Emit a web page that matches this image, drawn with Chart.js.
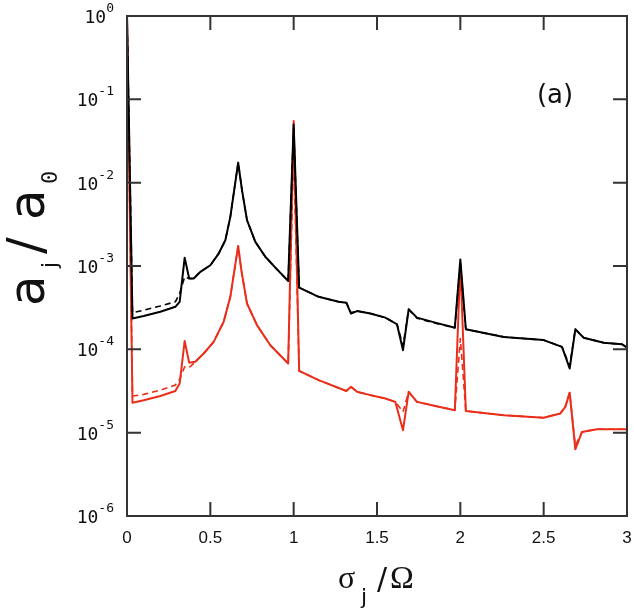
<!DOCTYPE html>
<html>
<head>
<meta charset="utf-8">
<script src="https://cdn.jsdelivr.net/npm/chart.js@4.4.1/dist/chart.umd.min.js"></script>
<style>
  body { margin: 0; background: #fff; }
  canvas { display: block; }
</style>
</head>
<body>
<canvas id="chart" width="634" height="614"></canvas>
<script>
// values (a_j / a_0 against sigma_j / Omega)
const blackX = [0, 0.033, 0.1, 0.2, 0.29, 0.316, 0.346, 0.373, 0.40, 0.44, 0.50, 0.55, 0.59, 0.62, 0.667, 0.69, 0.72, 0.77, 0.83, 0.90, 0.967,
    1.0, 1.033, 1.15, 1.27, 1.316, 1.344, 1.38, 1.46, 1.55, 1.62, 1.656, 1.69, 1.74, 1.85, 1.967, 2.0, 2.033, 2.26, 2.5, 2.61, 2.656, 2.69, 2.74, 2.86, 2.97, 3.0];
const blackSolid = [1, 2.34e-4, 2.51e-4, 2.82e-4, 3.24e-4, 3.72e-4, 1.26e-3, 7.08e-4, 7.08e-4, 8.51e-4, 1.02e-3, 1.41e-3, 2.04e-3, 3.89e-3, 1.74e-2, 8.13e-3, 3.55e-3, 1.95e-3, 1.29e-3, 9.12e-4, 6.61e-4,
    5.00e-2, 5.50e-4, 4.27e-4, 3.72e-4, 3.63e-4, 2.69e-4, 2.88e-4, 2.69e-4, 2.40e-4, 2.00e-4, 9.77e-5, 3.02e-4, 2.40e-4, 2.09e-4, 1.82e-4, 1.20e-3, 1.74e-4, 1.41e-4, 1.29e-4, 1.07e-4, 5.89e-5, 1.74e-4, 1.38e-4, 1.20e-4, 1.15e-4, 1.05e-4];
const blackDashed = [1, 2.75e-4, 2.95e-4, 3.31e-4, 3.72e-4, 4.68e-4, 7.41e-4, 7.08e-4, 7.08e-4, 8.51e-4, 1.02e-3, 1.41e-3, 2.04e-3, 3.89e-3, 1.74e-2, 8.13e-3, 3.55e-3, 1.95e-3, 1.29e-3, 9.12e-4, 6.61e-4,
    4.50e-2, 5.50e-4, 4.27e-4, 3.72e-4, 3.63e-4, 2.75e-4, 2.88e-4, 2.69e-4, 2.40e-4, 2.00e-4, 1.10e-4, 3.02e-4, 2.36e-4, 2.06e-4, 1.82e-4, 1.10e-3, 1.74e-4, 1.41e-4, 1.29e-4, 1.07e-4, 6.30e-5, 1.74e-4, 1.38e-4, 1.20e-4, 1.15e-4, 1.05e-4];

const redX = [0, 0.033, 0.1, 0.2, 0.29, 0.316, 0.346, 0.373, 0.41, 0.46, 0.52, 0.58, 0.62, 0.667, 0.686, 0.72, 0.78, 0.86, 0.967,
    1.0, 1.033, 1.15, 1.316, 1.344, 1.38, 1.46, 1.55, 1.61, 1.656, 1.69, 1.74, 1.85, 1.967, 2.0, 2.033, 2.26, 2.5, 2.60, 2.63, 2.656, 2.69, 2.73, 2.82, 3.0];
const redSolid = [1, 2.29e-5, 2.45e-5, 2.75e-5, 3.16e-5, 3.89e-5, 1.26e-4, 6.92e-5, 7.08e-5, 8.91e-5, 1.23e-4, 2.14e-4, 4.27e-4, 1.74e-3, 8.91e-4, 3.55e-4, 1.95e-4, 1.12e-4, 6.76e-5,
    5.50e-2, 5.50e-5, 4.27e-5, 3.16e-5, 3.55e-5, 3.09e-5, 2.82e-5, 2.57e-5, 2.34e-5, 1.07e-5, 3.09e-5, 2.34e-5, 2.09e-5, 1.86e-5, 1.07e-3, 1.82e-5, 1.62e-5, 1.51e-5, 1.70e-5, 2.04e-5, 3.02e-5, 6.31e-6, 1.02e-5, 1.10e-5, 1.10e-5];
const redDashed = [1, 2.75e-5, 2.88e-5, 3.24e-5, 3.72e-5, 4.37e-5, 6.17e-5, 6.03e-5, 7.08e-5, 8.91e-5, 1.23e-4, 2.14e-4, 4.27e-4, 1.74e-3, 8.91e-4, 3.55e-4, 1.95e-4, 1.12e-4, 6.76e-5,
    2.50e-2, 5.50e-5, 4.27e-5, 3.16e-5, 3.55e-5, 3.09e-5, 2.82e-5, 2.57e-5, 2.34e-5, 1.78e-5, 3.09e-5, 2.34e-5, 2.09e-5, 1.86e-5, 1.35e-4, 1.82e-5, 1.62e-5, 1.51e-5, 1.70e-5, 2.04e-5, 3.02e-5, 7.00e-6, 1.02e-5, 1.10e-5, 1.10e-5];

const xTicks = [0, 0.5, 1, 1.5, 2, 2.5, 3];
const xTickLabels = ['0', '0.5', '1', '1.5', '2', '2.5', '3'];
const yExponents = [0, -1, -2, -3, -4, -5, -6];

const RED = '#ea2e1a';

function pts(xs, ys) {
    return xs.map((x, i) => ({ x: x, y: ys[i] }));
}

function line(data, color, dashed) {
    return {
        data: data,
        borderColor: color,
        borderWidth: dashed ? 1.6 : 2,
        borderDash: dashed ? [6, 4] : [],
        borderJoinStyle: 'round',
        pointRadius: 0,
        tension: 0,
        fill: false
    };
}

// frame, inward ticks and all the labels
const axesPlugin = {
    id: 'axesPlugin',
    afterDraw(chart) {
        const { ctx, chartArea: a, scales: { x, y } } = chart;
        ctx.save();
        ctx.strokeStyle = '#333';
        ctx.lineWidth = 2;
        ctx.strokeRect(a.left, a.top, a.right - a.left, a.bottom - a.top);

        const tl = 14;
        ctx.beginPath();
        xTicks.forEach(v => {
            const px = x.getPixelForValue(v);
            ctx.moveTo(px, a.bottom); ctx.lineTo(px, a.bottom - tl);
            ctx.moveTo(px, a.top); ctx.lineTo(px, a.top + tl);
        });
        yExponents.forEach(e => {
            const py = y.getPixelForValue(Math.pow(10, e));
            ctx.moveTo(a.left, py); ctx.lineTo(a.left + tl, py);
            ctx.moveTo(a.right, py); ctx.lineTo(a.right - tl, py);
        });
        ctx.stroke();

        ctx.fillStyle = '#111';
        // x tick labels
        ctx.font = '17px "Liberation Sans", Arial, sans-serif';
        ctx.textAlign = 'center';
        ctx.textBaseline = 'alphabetic';
        xTicks.forEach((v, i) => {
            ctx.fillText(xTickLabels[i], x.getPixelForValue(v), 543);
        });

        // y tick labels 10^e
        yExponents.forEach(e => {
            const py = y.getPixelForValue(Math.pow(10, e));
            const ex = String(e);
            ctx.textAlign = 'right';
            ctx.font = '13px "DejaVu Sans Mono", monospace';
            const ew = ctx.measureText(ex).width;
            ctx.fillText(ex, 114, py - 4);
            ctx.font = '18px "DejaVu Sans Mono", monospace';
            ctx.fillText('10', 114 - ew, py + 7);
        });

        // x title  sigma_j / Omega
        ctx.textAlign = 'left';
        ctx.font = '32px "Liberation Serif", serif';
        ctx.fillText('σ', 338, 588);
        ctx.font = '22px "DejaVu Sans", sans-serif';
        ctx.fillText('j', 361, 604);
        ctx.font = '30px "DejaVu Sans", sans-serif';
        ctx.fillText('/', 377, 589);
        ctx.font = '32px "Liberation Serif", serif';
        ctx.fillText('Ω', 390, 588);

        // y title  a_j / a_0 (rotated)
        ctx.save();
        ctx.translate(44, 306);
        ctx.rotate(-Math.PI / 2);
        ctx.font = '50px "DejaVu Sans", sans-serif';
        ctx.fillText('a', 0, 0);
        ctx.font = '22px "DejaVu Sans", sans-serif';
        ctx.fillText('j', 38, 13);
        ctx.font = '50px "DejaVu Sans", sans-serif';
        ctx.fillText('/', 52, -2);
        ctx.fillText('a', 86, 0);
        ctx.font = '22px "DejaVu Sans Mono", monospace';
        ctx.fillText('0', 122, 13);
        ctx.restore();

        // panel label
        ctx.font = '26px "DejaVu Sans", sans-serif';
        ctx.textAlign = 'center';
        ctx.textBaseline = 'middle';
        ctx.fillText('(a)', 555, 96);
        ctx.restore();
    }
};

new Chart(document.getElementById('chart'), {
    type: 'line',
    data: {
        datasets: [
            line(pts(blackX, blackDashed), '#000', true),
            line(pts(blackX, blackSolid), '#000', false),
            line(pts(redX, redDashed), RED, true),
            line(pts(redX, redSolid), RED, false)
        ]
    },
    options: {
        responsive: false,
        animation: false,
        layout: { padding: { left: 0, top: 16, right: 7, bottom: 0 } },
        plugins: { legend: { display: false }, tooltip: { enabled: false } },
        scales: {
            x: {
                type: 'linear', min: 0, max: 3,
                grid: { display: false }, border: { display: false },
                ticks: { display: false },
                afterFit(s) { s.height = 98; }
            },
            y: {
                type: 'logarithmic', min: 1e-6, max: 1,
                grid: { display: false }, border: { display: false },
                ticks: { display: false },
                afterFit(s) { s.width = 127; }
            }
        }
    },
    plugins: [axesPlugin]
});
</script>
</body>
</html>
